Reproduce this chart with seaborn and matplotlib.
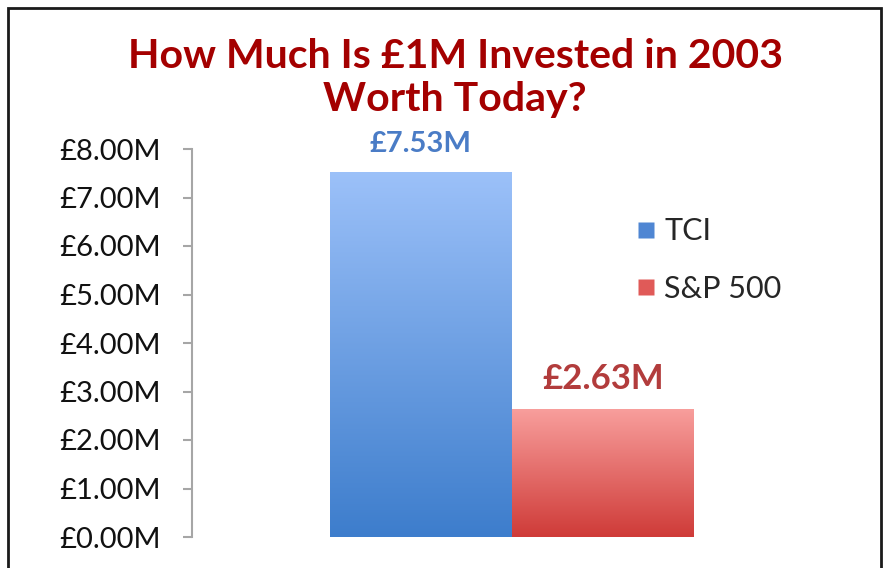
import numpy as np
import pandas as pd
import matplotlib
matplotlib.use("Agg")
import matplotlib.pyplot as plt
from matplotlib.lines import Line2D
from matplotlib.patches import Rectangle
from matplotlib.colors import LinearSegmentedColormap
import seaborn as sns

# ---- data ----
categories = ["TCI", "S&P 500"]
values = [7.53, 2.63]
value_labels = ["£7.53M", "£2.63M"]
tick_values = [0, 1, 2, 3, 4, 5, 6, 7, 8]
tick_labels = ["£0.00M", "£1.00M", "£2.00M", "£3.00M", "£4.00M",
               "£5.00M", "£6.00M", "£7.00M", "£8.00M"]
title = "How Much Is £1M Invested in 2003\nWorth Today?"

top_colors = ["#9cc1f9", "#f89e9c"]
bottom_colors = ["#3d7dcc", "#cf3b38"]
solid_colors = ["#4f86d3", "#e05a58"]
label_colors = ["#4a7cc6", "#b23c3c"]

sns.set_theme(style="white")
plt.rcParams["font.family"] = ["Lato", "DejaVu Sans"]

W, H = 885, 568
fig = plt.figure(figsize=(W / 100, H / 100), dpi=100)
fig.patch.set_facecolor("white")

# axes geometry in pixels
ax_left, ax_right, ax_bottom, ax_top = 192, 870, 537, 149
ax = fig.add_axes([ax_left / W, (H - ax_bottom) / H,
                   (ax_right - ax_left) / W, (ax_bottom - ax_top) / H])

df = pd.DataFrame({"cat": categories, "val": values})
sns.barplot(data=df, x="cat", y="val", hue="cat", palette=solid_colors,
            width=1.0, dodge=False, legend=False, ax=ax, saturation=1)

# gradient overlay on bars
for i, p in enumerate(ax.patches):
    x0, y0 = p.get_x(), p.get_y()
    w, h = p.get_width(), p.get_height()
    cmap = LinearSegmentedColormap.from_list("g", [bottom_colors[i], top_colors[i]])
    grad = np.linspace(0, 1, 256).reshape(-1, 1)
    im = ax.imshow(grad, cmap=cmap, aspect="auto", origin="lower",
                   extent=[x0, x0 + w, y0, y0 + h], zorder=p.get_zorder() + 0.1)
    im.set_clip_path(p)
    p.set_edgecolor("none")

# x limits: bar unit = 182 px, blue centre at x=421 px
unit = 182.0
ax.set_xlim((ax_left - 421) / unit, (ax_right - 421) / unit)
ax.set_ylim(0, 8)

# value labels
for i, (v, lab) in enumerate(zip(values, value_labels)):
    ax.text(i, v + 0.3, lab, ha="center", va="bottom",
            color=label_colors[i], fontsize=21 if i == 0 else 25,
            fontweight="bold")

# axes styling
for s in ["top", "right", "bottom"]:
    ax.spines[s].set_visible(False)
ax.spines["left"].set_color("#a6a6a6")
ax.spines["left"].set_linewidth(1.5)
ax.set_yticks(tick_values)
ax.set_yticklabels(tick_labels, fontsize=21, color="#111111")
ax.tick_params(axis="y", which="major", left=True, length=6.5, width=1.5,
               color="#a6a6a6", direction="out", pad=16)
ax.set_xticks([])
ax.set_xlabel("")
ax.set_ylabel("")
ax.set_facecolor("none")

# legend
handles = [Line2D([0], [0], marker="s", linestyle="none", markersize=12,
                  markerfacecolor=solid_colors[i], markeredgecolor="none",
                  label=categories[i]) for i in range(2)]
fig.legend(handles=handles, loc="upper left",
           bbox_to_anchor=(603 / W, 1 - 190 / H), frameon=False,
           fontsize=22, handletextpad=0.1, labelspacing=0.95,
           handlelength=1.0)

# title
fig.text(455 / W, 1 - 78 / H, title, ha="center", va="center",
         color="#a40000", fontsize=29.5, fontweight="bold", linespacing=1.2)

# outer frame
fig.add_artist(Rectangle((8 / W, -0.1), (881 - 8) / W, 1.1 - 8 / H,
                         transform=fig.transFigure, fill=False,
                         edgecolor="#1a1a1a", linewidth=2))

fig.savefig("out.png", dpi=100)
